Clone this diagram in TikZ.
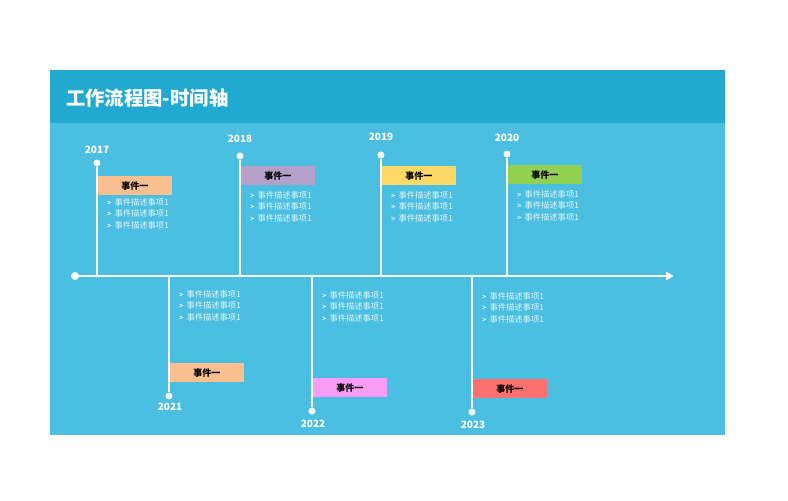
\documentclass[tikz,border=0pt]{standalone}
\usepackage{fontspec}
\usetikzlibrary{arrows.meta}
\newfontfamily\cjk{Noto Sans CJK SC}
\definecolor{head}{HTML}{22A9D1}
\definecolor{body}{HTML}{4BBFE1}
\definecolor{cpeach}{HTML}{F9BF8F}
\definecolor{clav}{HTML}{B4A0C8}
\definecolor{cyel}{HTML}{FFD966}
\definecolor{cgrn}{HTML}{92D050}
\definecolor{cpink}{HTML}{F99CF5}
\definecolor{cred}{HTML}{FF7171}
\definecolor{desctext}{HTML}{E4F6FB}
\begin{document}
\begin{tikzpicture}[x=0.75pt,y=-0.75pt,
  every node/.style={inner sep=0pt},
  year/.style={text=white, font=\cjk\bfseries\fontsize{7.5}{9}\selectfont},
  dot/.style={circle, fill=white, minimum size=5.2pt},
  evt/.style={anchor=north west, minimum width=55pt, minimum height=14.3pt, font=\cjk\bfseries\fontsize{6.8}{8}\selectfont, text=black},
  desc/.style={anchor=west, text=desctext, font=\cjk\fontsize{6.2}{7}\selectfont},
  conn/.style={draw=white, line width=1.8pt}]
\useasboundingbox (0,0) rectangle (788,500);
\fill[white] (0,0) rectangle (788,500);
\fill[body] (50,70) rectangle (725,435);
\fill[head] (50,70) rectangle (725,123);
\node[anchor=west, text=white, font=\cjk\bfseries\fontsize{14.5}{17}\selectfont] (title) at (66,98) {工作流程图-时间轴};
% timeline
\node[dot, minimum size=6pt] (start) at (75,276) {};
\coordinate (end) at (674,276);
\draw[conn, -{Triangle[length=6pt,width=6pt]}] (start) -- (end);
% upper items
\foreach \yr/\x/\dy/\yy/\by/\ey/\c in {2017/97/163/150/176/202/cpeach, 2018/240/156/139/166/195/clav, 2019/381/155/137/166/195/cyel, 2020/507/154/138/165/194/cgrn}{
  \node[dot] (d\yr) at (\x,\dy) {};
  \node[year] (y\yr) at (\x,\yy) {\yr};
  \coordinate (t\yr) at (\x,276);
  \draw[conn] (d\yr) -- (t\yr);
  \node[evt, fill=\c] (b\yr) at (\x+1,\by) {事件一};
  \foreach \k in {0,1,2}{
    \node[desc] (e\yr-\k) at (\x+10,\ey+\k*11.5) {{\fontsize{5}{6}\selectfont\bfseries >}\hspace{2.5pt}事件描述事项1};
  }
}
% lower items
\foreach \yr/\x/\dy/\yy/\by/\ey/\c in {2021/169/396/407/363/294/cpeach, 2022/312/411/424/378/295/cpink, 2023/472/412/425/379/296/cred}{
  \node[dot] (d\yr) at (\x,\dy) {};
  \node[year] (y\yr) at (\x+1,\yy) {\yr};
  \coordinate (t\yr) at (\x,276);
  \draw[conn] (t\yr) -- (d\yr);
  \node[evt, fill=\c] (b\yr) at (\x+1,\by) {事件一};
  \foreach \k in {0,1,2}{
    \node[desc] (e\yr-\k) at (\x+10,\ey+\k*11.7) {{\fontsize{5}{6}\selectfont\bfseries >}\hspace{2.5pt}事件描述事项1};
  }
}
\end{tikzpicture}
\end{document}
